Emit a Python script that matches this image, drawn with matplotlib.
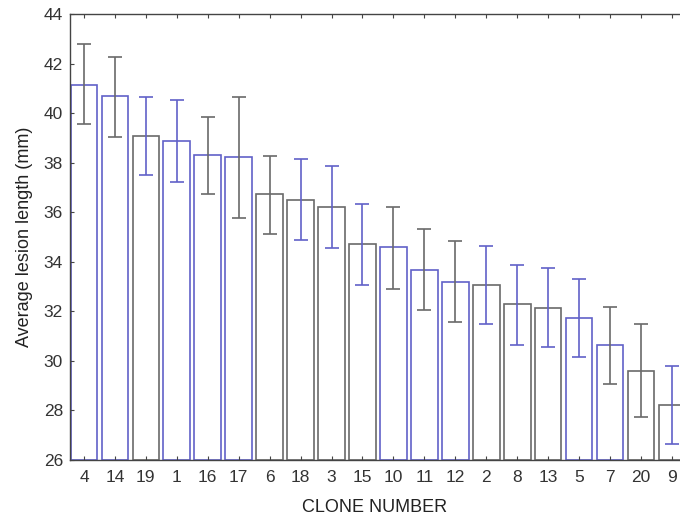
import matplotlib
matplotlib.use("Agg")
import matplotlib.pyplot as plt
import numpy as np

plt.rcParams['font.family'] = ['Liberation Sans', 'DejaVu Sans']

clones = ['4', '14', '19', '1', '16', '17', '6', '18', '3', '15',
          '10', '11', '12', '2', '8', '13', '5', '7', '20', '9']
means = [41.15, 40.68, 39.08, 38.86, 38.30, 38.23, 36.73, 36.50, 36.20, 34.72,
         34.58, 33.65, 33.18, 33.05, 32.28, 32.13, 31.75, 30.63, 29.60, 28.22]
err_hi = [42.77, 42.28, 40.66, 40.53, 39.86, 40.66, 38.28, 38.13, 37.85, 36.33,
          36.23, 35.32, 34.83, 34.62, 33.88, 33.76, 33.30, 32.18, 31.50, 29.80]
err_lo = [39.56, 39.05, 37.52, 37.21, 36.73, 35.77, 35.12, 34.89, 34.57, 33.08,
          32.90, 32.04, 31.58, 31.48, 30.66, 30.55, 30.16, 29.08, 27.75, 26.65]

blue = '#6161c8'
gray = '#6a6a6a'
edge_cols = [blue, blue, gray, blue, blue, blue, gray, gray, gray, gray,
             blue, blue, blue, gray, gray, gray, blue, blue, gray, gray]
err_cols = [gray, gray, blue, blue, gray, gray, gray, blue, blue, blue,
            gray, gray, gray, blue, blue, blue, blue, gray, gray, blue]

fig = plt.figure(figsize=(6.8, 5.18), dpi=100)
ax = fig.add_axes([0.103, 0.112, 0.897, 0.861])

x = np.arange(len(clones))
ax.bar(x, np.array(means) - 26, bottom=26, width=0.86, color='white',
       edgecolor=edge_cols, linewidth=1.2)
for i in range(len(clones)):
    ax.errorbar(x[i], means[i],
                yerr=[[means[i] - err_lo[i]], [err_hi[i] - means[i]]],
                fmt='none', ecolor=err_cols[i], elinewidth=1.2,
                capsize=5, capthick=1.2)

ax.set_xlim(-0.45, 19.26)
ax.set_ylim(26, 44)
ax.set_yticks(np.arange(26, 45, 2))
ax.set_xticks(x)
ax.set_xticklabels(clones)
ax.spines['right'].set_visible(False)
for s in ['left', 'bottom', 'top']:
    ax.spines[s].set_color('#444444')
    ax.spines[s].set_linewidth(1.0)
ax.tick_params(axis='both', direction='in', length=3, colors='#444444',
               labelcolor='#333333', labelsize=12.5)
ax.tick_params(axis='x', top=True, pad=7)
ax.tick_params(axis='y', pad=5)

ax.set_ylabel('Average lesion length (mm)', fontsize=13, color='#222222', labelpad=8)
ax.set_xlabel('CLONE NUMBER', fontsize=13, color='#222222', labelpad=10)

fig.savefig('out.png', dpi=100)
